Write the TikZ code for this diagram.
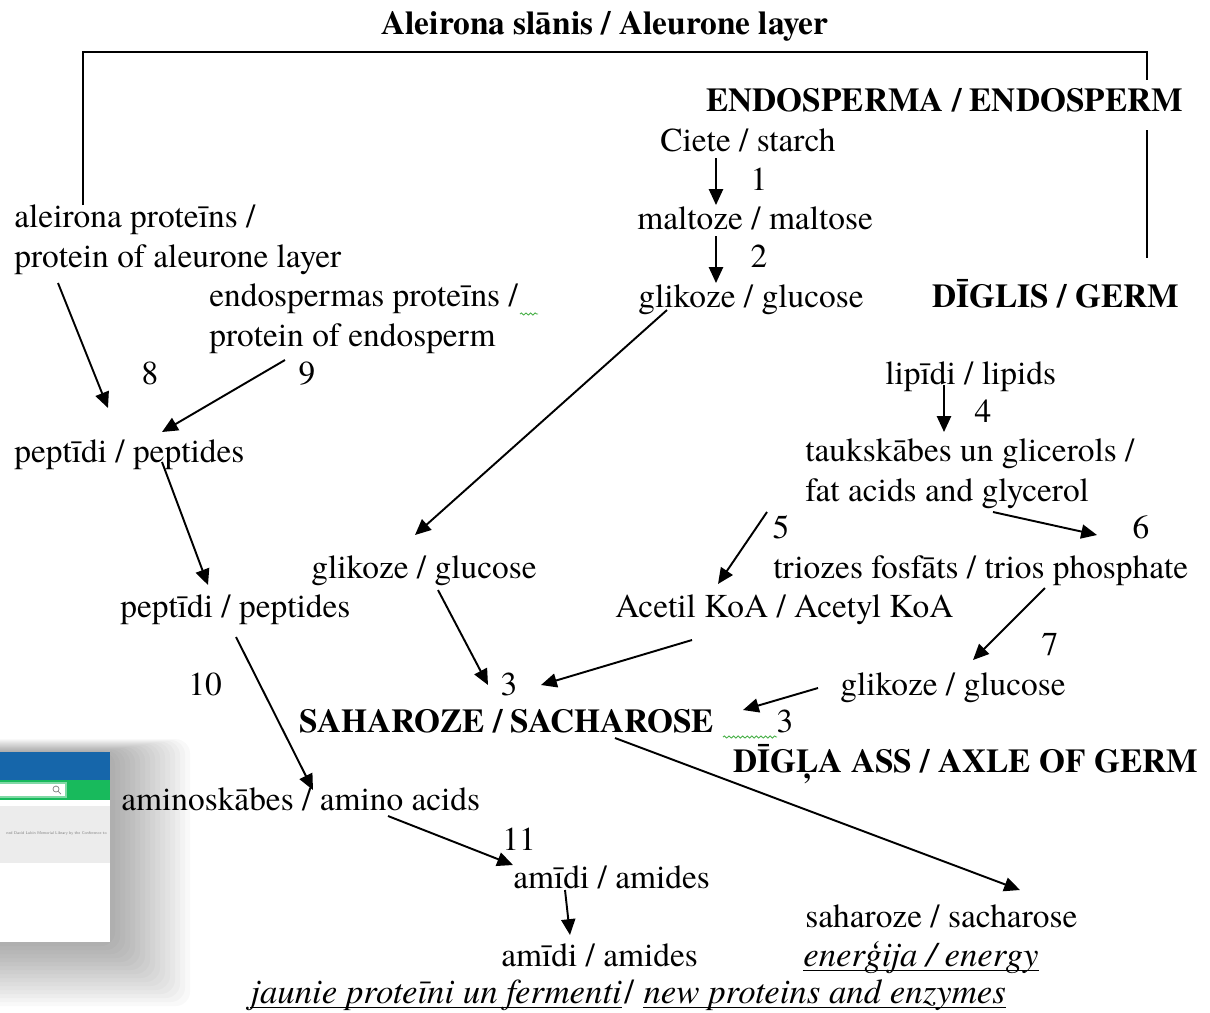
\documentclass[tikz,border=0pt]{standalone}
\usepackage{fontspec}
\setmainfont{TeX Gyre Termes}
\usetikzlibrary{arrows.meta,calc,decorations.pathmorphing}

\definecolor{bannerblue}{RGB}{22,102,170}
\definecolor{bannergreen}{RGB}{24,186,92}
\definecolor{panelgrey}{RGB}{236,236,236}
\definecolor{spellgreen}{RGB}{70,175,70}

\tikzset{
  txt/.style={anchor=base west, inner sep=0pt},
  bold/.style={txt, font=\bfseries},
  emph/.style={txt, font=\fontsize{19.8}{23}\selectfont\itshape},
  num/.style={anchor=base, inner sep=0pt},
  arr/.style={line width=1.1pt, -{Triangle[length=9pt,width=8pt]}},
  bracket/.style={line width=1pt},
  uline/.style={line width=0.8pt},
  spell/.style={spellgreen, line width=0.5pt, decorate,
    decoration={snake, amplitude=0.6pt, segment length=2.6pt}}
}

\begin{document}
\fontsize{19}{22.3}\selectfont
\begin{tikzpicture}[x=0.02cm, y=-0.02cm]
\useasboundingbox (0,0) rectangle (1210,1012);

% Headings
\node[num, font=\bfseries] (title) at (605,34) {Aleirona slānis / Aleurone layer};
\node[bold] (endo) at (706,111) {ENDOSPERMA / ENDOSPERM};
\node[bold] (germ) at (932,307) {DĪGLIS / GERM};
\node[bold] (sach) at (299,732) {SAHAROZE / SACHAROSE};
\node[bold] (axle) at (733,772) {DĪGĻA ASS / AXLE OF GERM};

% Substances (two line nodes sit on their last line)
\node[txt] (starch) at (660,151) {Ciete / starch};
\node[txt] (maltose) at (637,229) {maltoze / maltose};
\node[txt] (glu1) at (638,307) {glikoze / glucose};
\node[txt, align=left] (aleu) at (14,267) {aleirona proteīns /\\protein of aleurone layer};
\node[txt, align=left] (endoprot) at (209,346) {endospermas proteīns /\\protein of endosperm};
\node[txt] (lipids) at (885,384) {lipīdi / lipids};
\node[txt, align=left] (fat) at (805,501) {taukskābes un glicerols /\\fat acids and glycerol};
\node[txt] (pept1) at (14,462) {peptīdi / peptides};
\node[txt] (glu2) at (311,578) {glikoze / glucose};
\node[txt] (trios) at (773,578) {triozes fosfāts / trios phosphate};
\node[txt] (pept2) at (120,617) {peptīdi / peptides};
\node[txt] (acetyl) at (615,617) {Acetil KoA / Acetyl KoA};
\node[txt] (glu3) at (840,695) {glikoze / glucose};
\node[txt] (amino) at (121,810) {aminoskābes / amino acids};
\node[txt] (amid1) at (513,888) {amīdi / amides};
\node[txt] (sach2) at (805,927) {saharoze / sacharose};
\node[txt] (amid2) at (501,966) {amīdi / amides};

% Products
\node[emph] (energy) at (803,966) {enerģija / energy};
\node[emph] (newlv) at (250,1003) {jaunie proteīni un fermenti};
\node[txt, font=\fontsize{19.8}{23}\selectfont] (slash) at ([xshift=1pt]newlv.base east) {/};
\node[emph] (newen) at ([xshift=5pt]slash.base east) {new proteins and enzymes};
\draw[uline] ([yshift=-2.4pt]energy.base west) -- ([yshift=-2.4pt]energy.base east);
\draw[uline] ([yshift=-2.4pt]newlv.base west) -- ([yshift=-2.4pt]newlv.base east);
\draw[uline] ([yshift=-2.4pt]newen.base west) -- ([yshift=-2.4pt]newen.base east);

% Step numbers
\node[num] (n1) at (759,190) {1};
\node[num] (n2) at (759,267) {2};
\node[num] (n3a) at (509,695) {3};
\node[num] (n3b) at (785,732) {3};
\node[num] (n4) at (983,422) {4};
\node[num] (n5) at (781,538) {5};
\node[num] (n6) at (1141,538) {6};
\node[num] (n7) at (1050,655) {7};
\node[num] (n8) at (150,384) {8};
\node[num] (n9) at (307,384) {9};
\node[num] (n10) at (205,695) {10};
\node[num] (n11) at (519,850) {11};

% Aleurone layer bracket
\coordinate (tl) at (83,52);
\coordinate (tr) at (1147,52);
\draw[bracket] ($(aleu.base west)+(69,-62)$) -- (tl) -- (tr) -- ($(endo.base west)+(441,-31)$);
\draw[bracket] ($(endo.base west)+(441,19)$) -- ($(germ.base west)+(215,-49)$);

% Starch
\draw[arr] ($(starch.base west)+(56,7)$) -- ($(maltose.base west)+(79,-24)$);
\draw[arr] ($(maltose.base west)+(79,7)$) -- ($(glu1.base west)+(78,-24)$);
\draw[arr] ($(glu1.base west)+(29,3)$) -- ($(glu2.base west)+(104,-43)$);
\draw[arr] ($(glu2.base west)+(127,12)$) -- ($(sach.base west)+(189,-47)$);

% Proteins
\draw[arr] ($(aleu.base west)+(44,16)$) -- ($(pept1.base west)+(94,-54)$);
\draw[arr] ($(endoprot.base west)+(76,14)$) -- ($(pept1.base west)+(148,-30)$);
\draw[arr] ($(pept1.base west)+(148,0)$) -- ($(pept2.base west)+(88,-32)$);
\draw[arr] ($(pept2.base west)+(116,20)$) -- ($(amino.base west)+(192,-20)$);
\draw[arr] ($(amino.base west)+(267,6)$) -- ($(amid1.base west)+(0,-23)$);
\draw[arr] ($(amid1.base west)+(52,2)$) -- ($(amid2.base west)+(69,-31)$);

% Lipids
\draw[arr] ($(lipids.base west)+(59,1)$) -- ($(fat.base west)+(139,-69)$);
\draw[arr] ($(fat.base west)+(188,11)$) -- ($(trios.base west)+(324,-43)$);
\draw[arr] ($(fat.base west)+(-38,11)$) -- ($(acetyl.base west)+(103,-33)$);
\draw[arr] ($(acetyl.base west)+(77,23)$) -- ($(sach.base west)+(242,-47)$);
\draw[arr] ($(trios.base west)+(272,10)$) -- ($(glu3.base west)+(133,-35)$);
\draw[arr] ($(glu3.base west)+(-22,-7)$) -- ($(sach.base west)+(444,-22)$);

% Sacharose
\draw[arr] ($(sach.base west)+(316,6)$) -- ($(sach2.base west)+(215,-37)$);

% spell check marks
\draw[spell] ($(endoprot.base west)+(311,-32)$) -- ++(18,0);
\draw[spell] ($(sach.base west)+(424,5)$) -- ++(54,0);

% pop-up window with its shadow
\foreach \i in {1,...,16}
  \fill[black, opacity=0.022, rounded corners=8] (-30,{752-\i*0.8}) rectangle ({110+\i*5},{942+\i*4});
\fill[white] (0,752) rectangle (110,942);
\fill[bannerblue] (0,752) rectangle (110,780);
\fill[bannergreen] (0,780) rectangle (110,800);
\fill[white, draw=bannergreen!55!white, line width=0.8pt] (-2,783) rectangle (66,797);
\draw[gray, line width=0.4pt] (56,789) circle (3) (58.2,791.2) -- (61,794);
\fill[panelgrey] (0,806) rectangle (110,863);
\begin{scope}
  \clip (0,806) rectangle (110,863);
  \node[anchor=base east, inner sep=0pt, gray, font=\sffamily\fontsize{2.3}{3}\selectfont] (popup) at (107,834)
    {ned David Lubin Memorial Library by the Conference to};
\end{scope}
\end{tikzpicture}
\end{document}
